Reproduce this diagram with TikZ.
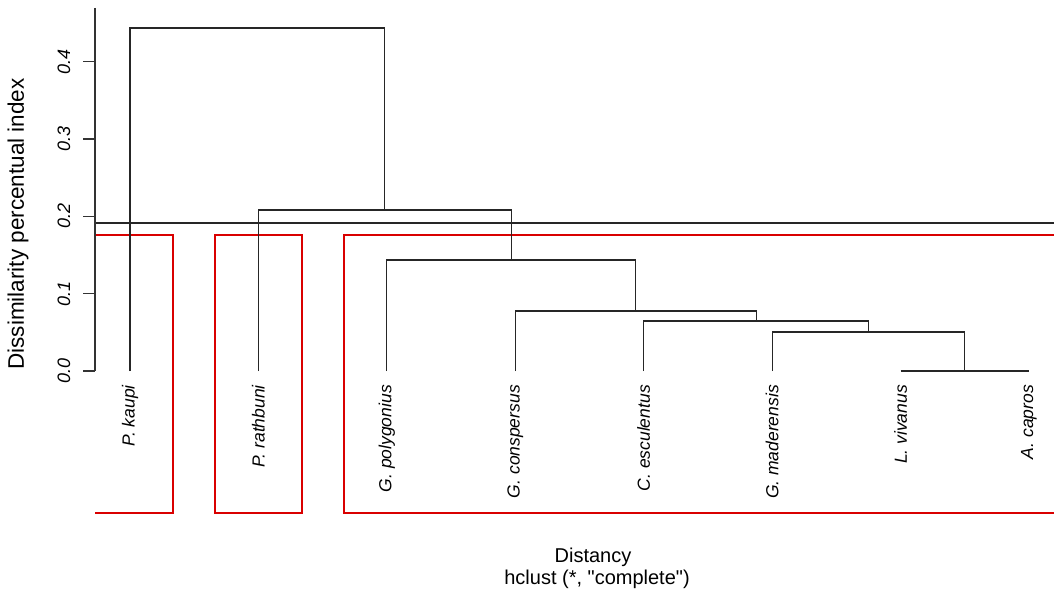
\documentclass[tikz,border=0pt]{standalone}
\usepackage{fontspec}
\newfontfamily\rfont{Liberation Sans}
\begin{document}
\begin{tikzpicture}[x=1pt,y=-1pt,
  tree/.style={draw=black!85, line width=1.1pt},
  axisline/.style={draw=black!80, line width=1.1pt},
  cutline/.style={draw=black!85, line width=1.1pt},
  cutbox/.style={draw=red!85!black, line width=1.1pt},
  leaflab/.style={rotate=90, anchor=east, inner sep=0pt, font=\rfont\fontsize{17.5}{20}\selectfont\itshape},
  ticklab/.style={rotate=90, inner sep=0pt, font=\rfont\fontsize{18}{20}\selectfont\itshape},
  axlab/.style={inner sep=0pt, font=\rfont\fontsize{20}{24}\selectfont},
  ylab/.style={rotate=90, inner sep=0pt, font=\rfont\fontsize{22.5}{26}\selectfont}]
\useasboundingbox[fill=white] (0,0) rectangle (1054,594);

% leaves
\coordinate (L1) at (130,371);
\coordinate (L2) at (258.4,371);
\coordinate (L3) at (386.9,371);
\coordinate (L4) at (515.3,371);
\coordinate (L5) at (643.7,371);
\coordinate (L6) at (772.1,371);
\coordinate (L7) at (900.6,371);
\coordinate (L8) at (1029,371);
% merges
\coordinate (N7) at (964.8,371);
\coordinate (N6) at (868.5,332);
\coordinate (N5) at (756.1,321);
\coordinate (N4) at (635.7,311);
\coordinate (N3) at (511.3,260);
\coordinate (N2) at (384.8,210);
\coordinate (N1) at (257.4,28);

% cut boxes (rect.hclust)
\draw[cutbox] (95,235) -- (173,235) -- (173,513) -- (95,513);
\draw[cutbox] (215,235) rectangle (302,513);
\draw[cutbox] (1054,235) -- (344,235) -- (344,513) -- (1054,513);

% cut line
\coordinate (cutL) at (95,223);
\coordinate (cutR) at (1054,223);
\draw[cutline] (cutL) -- (cutR);

% dendrogram
\draw[tree] (L7) |- (N7) -| (L8);
\draw[tree] (L6) |- (N6) -| (N7);
\draw[tree] (L5) |- (N5) -| (N6);
\draw[tree] (L4) |- (N4) -| (N5);
\draw[tree] (L3) |- (N3) -| (N4);
\draw[tree] (L2) |- (N2) -| (N3);
\draw[tree] (L1) |- (N1) -| (N2);

% axis
\coordinate (axT) at (95,8);
\coordinate (axB) at (95,371);
\draw[axisline] (axT) -- (axB);
\foreach \v/\y in {0.0/371,0.1/293.6,0.2/216.3,0.3/139,0.4/61.7}{
  \draw[axisline] (83,\y) -- (95,\y);
  \node[ticklab] at (64,\y) {\v};
}

% leaf labels
\node[leaflab] (t1) at (130,385) {P. kaupi};
\node[leaflab] (t2) at (258.4,385) {P. rathbuni};
\node[leaflab] (t3) at (386.9,385) {G. polygonius};
\node[leaflab] (t4) at (515.3,385) {G. conspersus};
\node[leaflab] (t5) at (643.7,385) {C. esculentus};
\node[leaflab] (t6) at (772.1,385) {G. maderensis};
\node[leaflab] (t7) at (900.6,385) {L. vivanus};
\node[leaflab] (t8) at (1029,385) {A. capros};

% axis titles
\node[ylab] (yl) at (18,224) {Dissimilarity percentual index};
\node[axlab] (xl) at (593,557) {Distancy};
\node[axlab] (sub) at (597,579) {hclust (*, "complete")};
\end{tikzpicture}
\end{document}
